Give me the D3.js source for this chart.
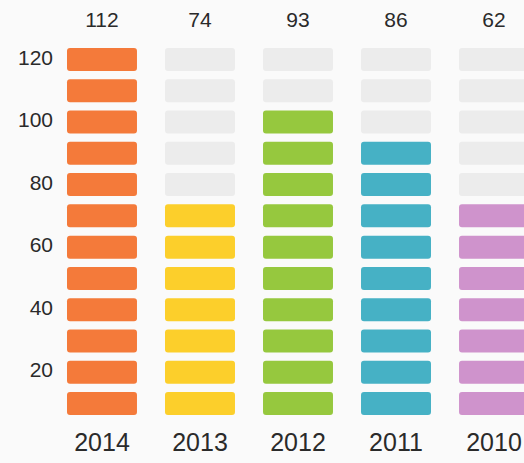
<!DOCTYPE html>
<html>
<head>
<meta charset="utf-8">
<script src="https://cdn.jsdelivr.net/npm/d3@7"></script>
<style>
    body { margin: 0; background: #fafafa; }
    svg { display: block; font-family: "Liberation Sans", Arial, sans-serif; }
</style>
</head>
<body>
<svg width="524" height="463"></svg>
<script>
// данные
const years = ["2014", "2013", "2012", "2011", "2010"];
const values = [112, 74, 93, 86, 62];
// сколько сегментов закрашено в каждом столбце
const filled = [12, 7, 10, 9, 7];
const colors = ["#f47a3a", "#fccf2b", "#96c83e", "#46b1c5", "#cf93cc"];
// уровни сегментов (по 10)
const levels = [10, 20, 30, 40, 50, 60, 70, 80, 90, 100, 110, 120];
const tickLabels = [20, 40, 60, 80, 100, 120];

const svg = d3.select("svg");

let scX = d3.scaleBand()
    .domain(years)
    .range([67, 529])
    .paddingInner(0.286)
    .paddingOuter(0);

let scY = d3.scaleBand()
    .domain(levels)
    .range([415, 48])
    .paddingInner(0.265)
    .paddingOuter(0);

// ось OY
let axisY = d3.axisLeft(scY).tickValues(tickLabels).tickSize(0).tickPadding(7);
let gY = svg.append("g")
    .attr("transform", "translate(60,0)")
    .call(axisY);
gY.select(".domain").remove();
gY.selectAll("text")
    .style("font-size", "21px")
    .style("fill", "#2a2a2a")
    .style("font-family", "Liberation Sans, Arial, sans-serif")
    .attr("dy", "0.25em");

// столбцы из сегментов
years.forEach((yr, i) => {
    svg.selectAll(".seg" + i)
        .data(levels)
        .enter()
        .append("rect")
        .attr("x", scX(yr))
        .attr("y", d => scY(d))
        .attr("width", scX.bandwidth())
        .attr("height", scY.bandwidth())
        .attr("rx", 3)
        .style("fill", (d, k) => k < filled[i] ? colors[i] : "#ececec");
});

// подписи значений сверху
svg.selectAll(".val")
    .data(values)
    .enter()
    .append("text")
    .attr("x", (d, i) => scX(years[i]) + scX.bandwidth() / 2)
    .attr("y", 27)
    .attr("text-anchor", "middle")
    .style("font-size", "21px")
    .style("fill", "#2a2a2a")
    .text(d => d);

// подписи годов снизу
svg.selectAll(".year")
    .data(years)
    .enter()
    .append("text")
    .attr("x", d => scX(d) + scX.bandwidth() / 2)
    .attr("y", 451)
    .attr("text-anchor", "middle")
    .style("font-size", "25px")
    .style("fill", "#2a2a2a")
    .text(d => d);
</script>
</body>
</html>
